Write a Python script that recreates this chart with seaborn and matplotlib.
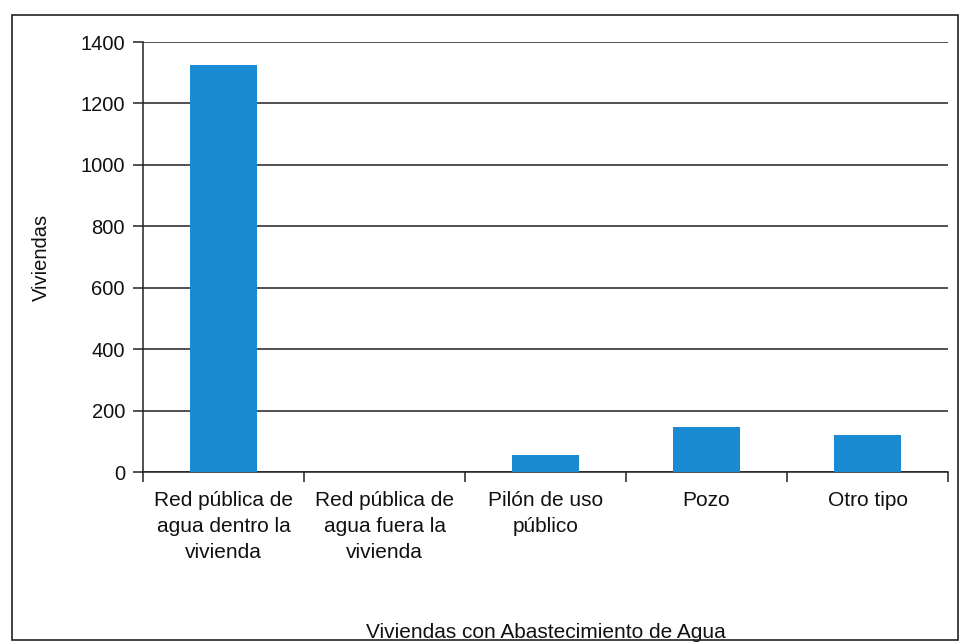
import numpy as np
import pandas as pd
import matplotlib
matplotlib.use("Agg")
import matplotlib.pyplot as plt
import seaborn as sns
from matplotlib.patches import Rectangle

categorias = [
    "Red pública de\nagua dentro la\nvivienda",
    "Red pública de\nagua fuera la\nvivienda",
    "Pilón de uso\npúblico",
    "Pozo",
    "Otro tipo",
]
viviendas = [1325, 0, 55, 145, 120]
y_ticks = [0, 200, 400, 600, 800, 1000, 1200, 1400]

sns.set_style("white")
plt.rcParams["font.family"] = ["Liberation Sans", "DejaVu Sans"]

df = pd.DataFrame({"categoria": categorias, "viviendas": viviendas})

fig = plt.figure(figsize=(9.6, 6.44), dpi=100)
ax = fig.add_axes([143 / 960, 1 - 472 / 644, (948 - 143) / 960, (472 - 42) / 644])

sns.barplot(data=df, x="categoria", y="viviendas", color="#1a8bd2",
            width=0.42, saturation=1, linewidth=0, ax=ax, zorder=3)

ax.set_ylim(0, 1400)
ax.set_yticks(y_ticks)
ax.set_xlim(-0.5, len(categorias) - 0.5)
ax.yaxis.grid(True, color="#222222", linewidth=1.1, zorder=0)
ax.set_axisbelow(True)

for s in ["top", "right"]:
    ax.spines[s].set_visible(False)
for s in ["left", "bottom"]:
    ax.spines[s].set_color("#222222")
    ax.spines[s].set_linewidth(1.1)

ax.tick_params(axis="y", which="major", direction="out", length=7, width=1.1,
               color="#222222", labelsize=14.5, left=True, pad=6, labelcolor="#111111")
ax.tick_params(axis="x", which="major", length=0, labelsize=15, pad=14, labelcolor="#111111")
ax.set_xticks(np.arange(len(categorias) + 1) - 0.5, minor=True)
ax.tick_params(axis="x", which="minor", direction="out", length=7, width=1.1,
               color="#222222", bottom=True)
ax.set_xticklabels(categorias, linespacing=1.45)

ax.set_ylabel("Viviendas", fontsize=14.5, color="#111111")
ax.yaxis.set_label_coords(-0.114, 0.5)
ax.set_xlabel("Viviendas con Abastecimiento de Agua", fontsize=15, color="#111111")
ax.xaxis.set_label_coords(0.5, -0.35)

# outer frame around the whole chart
fig.patches.append(Rectangle((12 / 960, 1 - 640 / 644), (958 - 12) / 960, (640 - 15) / 644,
                             transform=fig.transFigure, fill=False,
                             edgecolor="#222222", linewidth=1.2))

fig.savefig("out.png", dpi=100)
